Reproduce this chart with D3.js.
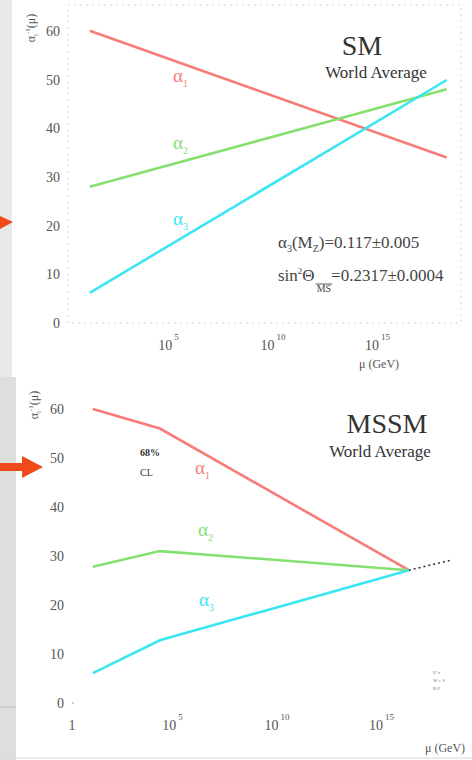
<!DOCTYPE html>
<html>
<head>
<meta charset="utf-8">
<script src="https://cdn.jsdelivr.net/npm/d3@7"></script>
<style>
  html, body { margin: 0; padding: 0; background: #fff; }
  svg { display: block; }
  text { font-family: 'Liberation Serif', 'DejaVu Serif', serif; }
</style>
</head>
<body>
<div id="chart"></div>
<script>
// inverse couplings vs scale (mu in GeV)
const smMu = [11, 1.3e18];
const smInv1 = [60, 34];
const smInv2 = [28, 48];
const smInv3 = [6.2, 49.9];

const mssmMu = [10, 1.6e4, 1.3e16];
const mssmInv1 = [60, 56, 27.1];
const mssmInv2 = [27.8, 31, 27.1];
const mssmInv3 = [6.1, 12.8, 27.1];
const extMu = [1.3e16, 1.5e18];
const extInv = [27.1, 29.2];

const yTicks = [0, 10, 20, 30, 40, 50, 60];
const smXTicks = [1e5, 1e10, 1e15];
const mssmXTicks = [1, 1e5, 1e10, 1e15];
const tickExp = { 1: '', 1e5: '5', 1e10: '10', 1e15: '15' };

const COLORS = { a1: '#f77c78', a2: '#86e070', a3: '#3ce6f0' };

const width = 472, height = 760;
const svg = d3.select('#chart').append('svg')
  .attr('width', width).attr('height', height);

// grey slide edge + arrows
svg.append('rect').attr('x', 0).attr('y', 0).attr('width', 12).attr('height', 377).attr('fill', '#e8e8e8');
svg.append('rect').attr('x', 0).attr('y', 377).attr('width', 16).attr('height', 383).attr('fill', '#dedede');
svg.append('line').attr('x1', 0).attr('x2', 16).attr('y1', 707).attr('y2', 707).attr('stroke', '#c4c4c4');
svg.append('line').attr('x1', 0).attr('x2', width).attr('y1', 758).attr('y2', 758).attr('stroke', '#d8d8d8');
svg.append('path').attr('d', 'M0,216 L13,222 L0,229 Z').attr('fill', '#f04a1a');
svg.append('path').attr('d', 'M0,463 L22,463 L22,456 L43,467 L22,478 L22,471 L0,471 Z').attr('fill', '#f04a1a');

function panel(cfg) {
  const g = svg.append('g');
  const x = d3.scaleLog().domain(cfg.xDomain).range(cfg.xRange);
  const y = d3.scaleLinear().domain([0, 65.3]).range(cfg.yRange);

  if (cfg.frame) {
    const fr = g.append('g').attr('stroke', '#ccd6d6').attr('stroke-dasharray', '2,4').attr('fill', 'none');
    fr.append('rect')
      .attr('x', cfg.xRange[0]).attr('y', cfg.yRange[1])
      .attr('width', cfg.xRange[1] - cfg.xRange[0])
      .attr('height', cfg.yRange[0] - cfg.yRange[1]);
  }

  // y ticks
  g.append('g').selectAll('text').data(yTicks).join('text')
    .attr('x', cfg.xRange[0] - 8).attr('y', d => y(d) + 5)
    .attr('text-anchor', 'end').attr('font-size', 14).attr('fill', '#555')
    .text(d => d);

  // x ticks
  const xt = g.append('g').selectAll('text').data(cfg.xTicks).join('text')
    .attr('x', d => x(d) - (tickExp[d] ? 4 : 0)).attr('y', cfg.yRange[0] + 27)
    .attr('text-anchor', 'middle').attr('font-size', 14).attr('fill', '#555');
  xt.append('tspan').text(d => d === 1 ? '1' : '10');
  xt.append('tspan').attr('dx', 2).attr('dy', -10).attr('font-size', 9).text(d => tickExp[d]);

  // y label
  const yl = g.append('text')
    .attr('transform', `translate(${cfg.yLabel[0]},${cfg.yLabel[1]}) rotate(-90)`)
    .attr('text-anchor', 'middle').attr('font-size', 12).attr('fill', '#555');
  yl.append('tspan').text('α');
  yl.append('tspan').attr('font-size', 7).attr('dy', 3).text('i');
  yl.append('tspan').attr('font-size', 7).attr('dy', -8).text('-1');
  yl.append('tspan').attr('dy', 5).text('(μ)');

  // x label
  const xl = g.append('text').attr('x', cfg.xLabel[0]).attr('y', cfg.xLabel[1])
    .attr('font-size', 12).attr('fill', '#555');
  xl.append('tspan').text('μ');
  xl.append('tspan').text(' (GeV)');

  const line = d3.line().x(d => x(d[0])).y(d => y(d[1]));
  cfg.series.forEach(s => {
    g.append('path')
      .datum(d3.zip(s.mu, s.inv))
      .attr('d', line)
      .attr('fill', 'none')
      .attr('stroke', s.color)
      .attr('stroke-width', s.dash ? 1.6 : 2.6)
      .attr('stroke-dasharray', s.dash ? '2,3' : null);
    if (s.label) {
      const t = g.append('text').attr('x', s.label[0]).attr('y', s.label[1])
        .attr('font-size', 19).attr('fill', s.color);
      t.append('tspan').text('α');
      t.append('tspan').attr('font-size', 10).attr('dy', 5).text(s.sub);
    }
  });

  // titles
  g.append('text').attr('x', cfg.title[0]).attr('y', cfg.title[1])
    .attr('text-anchor', 'middle').attr('font-size', 28).attr('fill', '#333')
    .text(cfg.titleText);
  g.append('text').attr('x', cfg.sub[0]).attr('y', cfg.sub[1])
    .attr('text-anchor', 'middle').attr('font-size', 17).attr('fill', '#333')
    .text('World Average');
  return { g, x, y };
}

const sm = panel({
  xDomain: [1, 6.3e18], xRange: [68, 461], yRange: [323, 5],
  xTicks: smXTicks, frame: true,
  yLabel: [35, 28], xLabel: [359, 368],
  title: [362, 55], titleText: 'SM', sub: [376, 78],
  series: [
    { mu: smMu, inv: smInv1, color: COLORS.a1, label: [173, 82], sub: '1' },
    { mu: smMu, inv: smInv2, color: COLORS.a2, label: [173, 149], sub: '2' },
    { mu: smMu, inv: smInv3, color: COLORS.a3, label: [173, 225], sub: '3' },
  ]
});

// coupling values
const info = sm.g.append('g').attr('font-size', 17).attr('fill', '#444');
const l1 = info.append('text').attr('x', 278).attr('y', 248);
l1.append('tspan').text('α');
l1.append('tspan').attr('font-size', 10).attr('dy', 4).text('3');
l1.append('tspan').attr('dy', -4).text('(M');
l1.append('tspan').attr('font-size', 10).attr('dy', 4).text('Z');
l1.append('tspan').attr('dy', -4).text(')=0.117±0.005');
const l2 = info.append('text').attr('x', 278).attr('y', 281);
l2.append('tspan').text('sin');
l2.append('tspan').attr('font-size', 9).attr('dy', -7).text('2');
l2.append('tspan').attr('dy', 7).text('Θ');
l2.append('tspan').attr('font-size', 10).attr('dy', 11).attr('dx', 2).text('MS');
l2.append('tspan').attr('dy', -11).text('=0.2317±0.0004');
const mExt = l2.node().getExtentOfChar(5);
const sExt = l2.node().getExtentOfChar(6);
info.append('line')
  .attr('x1', mExt.x - 1).attr('x2', sExt.x + sExt.width + 1)
  .attr('y1', mExt.y + 1).attr('y2', mExt.y + 1)
  .attr('stroke', '#555').attr('stroke-width', 1);

const mssm = panel({
  xDomain: [1, 6.3e18], xRange: [72, 465], yRange: [703, 383],
  xTicks: mssmXTicks, frame: false,
  yLabel: [38, 405], xLabel: [425, 752],
  title: [387, 433], titleText: 'MSSM', sub: [380, 457],
  series: [
    { mu: mssmMu, inv: mssmInv1, color: COLORS.a1, label: [195, 474], sub: '1' },
    { mu: mssmMu, inv: mssmInv2, color: COLORS.a2, label: [198, 536], sub: '2' },
    { mu: mssmMu, inv: mssmInv3, color: COLORS.a3, label: [199, 606], sub: '3' },
    { mu: extMu, inv: extInv, color: '#333', dash: true },
  ]
});

// small annotations
const cl = mssm.g.append('g').attr('font-size', 10).attr('fill', '#333');
cl.append('text').attr('x', 140).attr('y', 456).attr('font-weight', 'bold').text('68%');
cl.append('text').attr('x', 140).attr('y', 476).text('CL');
const tiny = mssm.g.append('g').attr('font-size', 5).attr('fill', '#777');
['U x', 'W e S', 'B F'].forEach((t, i) => {
  tiny.append('text').attr('x', 433).attr('y', 674 + i * 8).text(t);
});
mssm.g.append('circle').attr('cx', 73).attr('cy', 703).attr('r', 0.8).attr('fill', '#999');
</script>
</body>
</html>
